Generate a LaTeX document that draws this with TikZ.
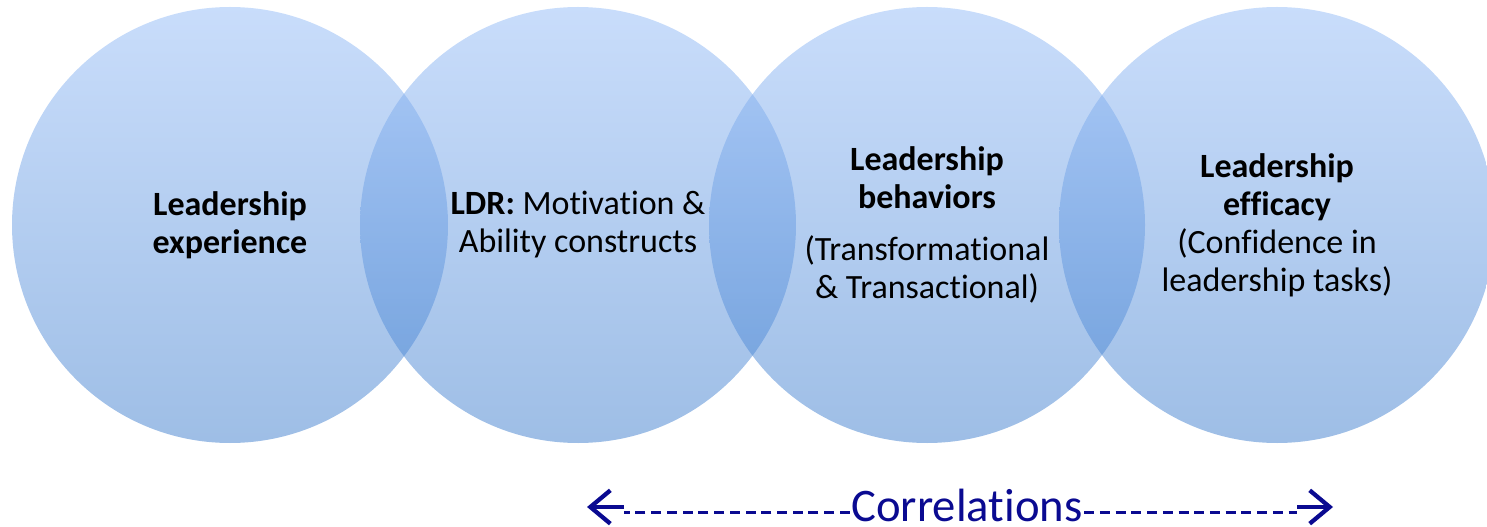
\documentclass[tikz,border=0pt]{standalone}
\usepackage{fontspec}
\setmainfont{Carlito}[Ligatures=NoCommon]
\usetikzlibrary{arrows.meta, positioning}

\definecolor{bubbleTop}{RGB}{147,187,247}
\definecolor{bubbleBottom}{RGB}{61,125,205}
\definecolor{corrBlue}{RGB}{10,10,145}

\begin{document}
\begin{tikzpicture}[
        x=0.75pt, y=-0.75pt,
        bubble/.style={
          circle,
          minimum size=327pt,
          inner sep=0pt,
          top color=bubbleTop,
          bottom color=bubbleBottom,
          fill opacity=0.5
        },
        caption/.style={
          align=center,
          font=\fontsize{25.5}{28.5}\selectfont
        },
        dashLine/.style={corrBlue, line width=2.25pt, dash pattern=on 7.5pt off 4.3pt},
        tipLine/.style={corrBlue, line width=3.2pt, -{Straight Barb[length=15pt, width=25pt]}}
    ]
    \useasboundingbox (0,0) rectangle (1487,527);

    % Define the circles
    \node[bubble] (experience) at (230,225) {};
    \node[bubble] (ldr) at (578,225) {};
    \node[bubble] (behaviors) at (927,225) {};
    \node[bubble] (efficacy) at (1277,225) {};

    % Texts on top of the circles
    \node[caption] (experienceText) at (experience) {\textbf{Leadership}\\\textbf{experience}};
    \node[caption] (ldrText) at (ldr) {\textbf{LDR:} Motivation \&\\Ability constructs};
    \node[caption] (behaviorsText) at (behaviors) {\textbf{Leadership}\\\textbf{behaviors}\\[10.5pt](Transformational\\\& Transactional)};
    \node[caption] (efficacyText) at (efficacy) {\textbf{Leadership}\\\textbf{efficacy}\\(Confidence in\\leadership tasks)};

    % Correlations arrow
    \node[font=\fontsize{35}{40}\selectfont, text=corrBlue, anchor=base, inner xsep=1pt, inner ysep=0pt] (corr) at (967,521) {Correlations};
    \coordinate (leftShaft) at (624,507);
    \coordinate (leftTip) at (587,507);
    \coordinate (rightShaft) at (1297,507);
    \coordinate (rightTip) at (1333,507);
    \draw[dashLine] (corr.west |- 0,512) -- (leftShaft |- 0,512);
    \draw[tipLine] (leftShaft) -- (leftTip);
    \draw[dashLine] (corr.east |- 0,512) -- (rightShaft |- 0,512);
    \draw[tipLine] (rightShaft) -- (rightTip);

    \end{tikzpicture}
\end{document}
